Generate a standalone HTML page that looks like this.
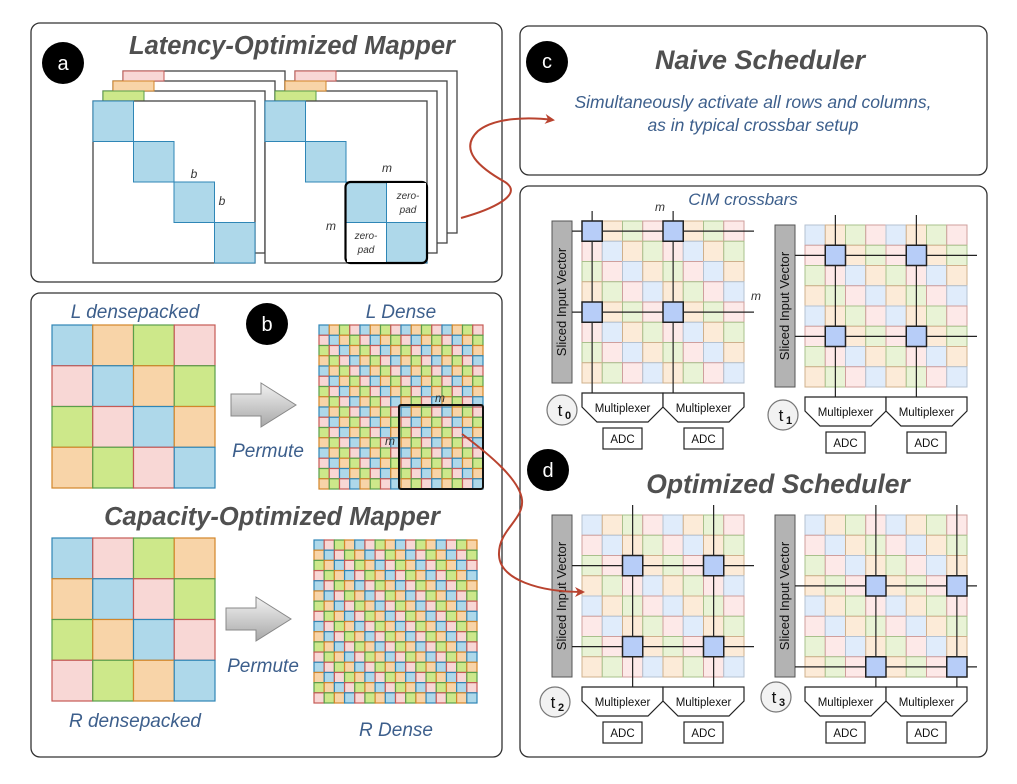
<!DOCTYPE html>
<html><head><meta charset="utf-8"><style>
html,body{margin:0;padding:0;background:#fff;}
svg{display:block;}
text{font-family:"Liberation Sans",Arial,sans-serif;}
.ttl{font-size:25.5px;font-weight:bold;font-style:italic;fill:#505050;}
.bl{font-size:19px;font-style:italic;fill:#3d5f8c;}
.sm{font-size:12px;font-style:italic;fill:#333;}
.mx{font-size:11.5px;fill:#111;}
</style></head><body>
<svg id="s" width="1017" height="784" viewBox="0 0 1017 784" xmlns="http://www.w3.org/2000/svg">
<defs>
<linearGradient id="ag" x1="0" y1="0" x2="0" y2="1"><stop offset="0" stop-color="#f2f2f2"/><stop offset="1" stop-color="#a8a8a8"/></linearGradient>
<marker id="ar" markerWidth="10" markerHeight="10" refX="8" refY="5" orient="auto" markerUnits="userSpaceOnUse"><path d="M0,0 L10,5 L0,10 L3,5 z" fill="#b9432f"/></marker>
</defs>
<rect x="31" y="23" width="471" height="259" rx="9" fill="#fff" stroke="#333" stroke-width="1.3"/>
<rect x="520" y="26" width="467" height="149" rx="9" fill="#fff" stroke="#333" stroke-width="1.3"/>
<rect x="31" y="293" width="471" height="464" rx="9" fill="#fff" stroke="#333" stroke-width="1.3"/>
<rect x="520" y="186" width="467" height="571" rx="9" fill="#fff" stroke="#333" stroke-width="1.3"/>
<g id="g"></g>
<text class="ttl" x="292" y="54" text-anchor="middle">Latency-Optimized Mapper</text>
<text class="ttl" x="760" y="69" text-anchor="middle" style="font-size:27px">Naive Scheduler</text>
<text class="bl" x="753" y="108" text-anchor="middle" style="font-size:17.5px">Simultaneously activate all rows and columns,</text>
<text class="bl" x="753" y="131" text-anchor="middle" style="font-size:17.5px">as in typical crossbar setup</text>
<text class="bl" x="743" y="205" text-anchor="middle" style="font-size:17px">CIM crossbars</text>
<text class="ttl" x="778" y="493" text-anchor="middle" style="font-size:26.5px">Optimized Scheduler</text>
<text class="ttl" x="272" y="525" text-anchor="middle">Capacity-Optimized Mapper</text>
<text class="bl" x="135" y="318" text-anchor="middle">L densepacked</text>
<text class="bl" x="401" y="318" text-anchor="middle">L Dense</text>
<text class="bl" x="268" y="457" text-anchor="middle">Permute</text>
<text class="bl" x="263" y="672" text-anchor="middle">Permute</text>
<text class="bl" x="135" y="727" text-anchor="middle">R densepacked</text>
<text class="bl" x="396" y="736" text-anchor="middle">R Dense</text>
<path d="M231,394 H261 V383 L296,405 L261,427 V416 H231 Z" fill="url(#ag)" stroke="#888"/>
<path d="M226,608 H256 V597 L291,619 L256,641 V630 H226 Z" fill="url(#ag)" stroke="#888"/>
<g fill="#000"><circle cx="63" cy="63" r="21"/><circle cx="267" cy="324" r="21"/><circle cx="547" cy="62" r="21"/><circle cx="548" cy="470" r="21"/></g>
<g fill="#fff" font-size="20" text-anchor="middle"><text x="63" y="70" fill="#fff">a</text><text x="267" y="331" fill="#fff">b</text><text x="547" y="68" fill="#fff">c</text><text x="548" y="477" fill="#fff">d</text></g>
</svg>
<script>
const NS="http://www.w3.org/2000/svg";const G=document.getElementById('g');const S=document.getElementById('s');
function el(t,a,p){const e=document.createElementNS(NS,t);for(const k in a)e.setAttribute(k,a[k]);(p||G).appendChild(e);return e;}
function tx(x,y,s,cls,anch,extra){const e=el('text',Object.assign({x:x,y:y,class:cls,'text-anchor':anch||'middle'},extra||{}));e.textContent=s;return e;}
const C={b:['#aed8ea','#2f86b6'],o:['#f8d4a8','#d3862a'],g:['#cde88a','#5a9e4a'],p:['#f8d7d5','#c55a55']};
const P={b:['#e0ecfb','#b4c2d2'],o:['#fcebd8','#cfb08c'],g:['#e9f3d6','#a9c08c'],p:['#fde9e8','#cf9f9d']};
function grid(x,y,n,size,order,pal,sw){const c=size/n;for(let r=0;r<n;r++)for(let k=0;k<n;k++){const col=pal[order[((k-r)%4+4)%4]];el('rect',{x:x+k*c,y:y+r*c,width:c,height:c,fill:col[0],stroke:col[1],'stroke-width':sw});}}
function mat(x,y){for(let i=3;i>=1;i--){el('rect',{x:x+i*10,y:y-i*10,width:162,height:162,fill:'#fff',stroke:'#444','stroke-width':1.3});}
 const tabs=[['#f8d7d5','#c55a55'],['#f8d4a8','#d3862a'],['#cde88a','#5a9e4a']];
 for(let i=3;i>=1;i--){const t=tabs[3-i];el('rect',{x:x+i*10,y:y-i*10,width:41,height:10,fill:t[0],stroke:t[1]});}
 el('rect',{x:x,y:y,width:162,height:162,fill:'#fff',stroke:'#444','stroke-width':1.3});
 for(let i=0;i<4;i++)el('rect',{x:x+i*40.5,y:y+i*40.5,width:40.5,height:40.5,fill:'#aed8ea',stroke:'#2f86b6'});
}
mat(93,101);mat(265,101);
tx(194,178,'b','sm');tx(222,205,'b','sm');
tx(387,172,'m','sm');tx(331,230,'m','sm');
el('rect',{x:345.5,y:182,width:81.5,height:81,rx:5,fill:'none',stroke:'#000','stroke-width':2.2});
el('rect',{x:387,y:183,width:39,height:39,fill:'#fff'});el('rect',{x:347,y:223,width:39,height:39,fill:'#fff'});
tx(408,199,'zero-','sm','middle',{style:'font-size:10px'});tx(408,213,'pad','sm','middle',{style:'font-size:10px'});
tx(366,239,'zero-','sm','middle',{style:'font-size:10px'});tx(366,253,'pad','sm','middle',{style:'font-size:10px'});
grid(52,325,4,163,['b','o','g','p'],C,1.2);
grid(319,325,16,164,['b','o','g','p'],C,1.2);
el('rect',{x:399,y:405,width:84,height:84,rx:2,fill:'none',stroke:'#111','stroke-width':2});
tx(440,402,'m','sm');tx(390,445,'m','sm');
grid(52,538,4,163,['b','p','g','o'],C,1.2);
grid(314,540,16,163,['b','p','g','o'],C,1.2);
function xbar(gx,gy,k,tsub,cx,cy){
 const c=162/8;grid(gx,gy,8,162,['b','o','g','p'],P,1);
 el('rect',{x:gx-30,y:gy,width:20,height:162,fill:'#b3b3b3',stroke:'#555'});
 tx(0,0,'Sliced Input Vector','mx','middle',{transform:`translate(${gx-16},${gy+81}) rotate(-90)`,style:'font-size:13px'});
 const idx=[k,k+4];
 idx.forEach(i=>{const yy=gy+(i+0.5)*c;el('line',{x1:gx-10,y1:yy,x2:gx+172,y2:yy,stroke:'#222','stroke-width':1.2});
  const xx=gx+(i+0.5)*c;el('line',{x1:xx,y1:gy-10,x2:xx,y2:gy+172,stroke:'#222','stroke-width':1.2});});
 idx.forEach(r=>idx.forEach(q=>el('rect',{x:gx+q*c,y:gy+r*c,width:c,height:c,fill:'#b7cdf8',stroke:'#222','stroke-width':1.5})));
 const my=gy+172;
 for(let j=0;j<2;j++){const x0=gx+j*81;el('path',{d:`M${x0},${my} H${x0+81} V${my+14} L${x0+66},${my+29} H${x0+15} L${x0},${my+14} Z`,fill:'#fff',stroke:'#222','stroke-width':1.2});
  tx(x0+40.5,my+19,'Multiplexer','mx');
  el('rect',{x:x0+21,y:my+35,width:39,height:21,fill:'#fff',stroke:'#222','stroke-width':1.2});tx(x0+40.5,my+50,'ADC','mx');}
 el('circle',{cx:cx,cy:cy,r:15,fill:'#f2f2f2',stroke:'#777','stroke-width':1.2});
 tx(cx-2,cy+6,'t','mx','middle',{style:'font-size:17px'});
 tx(cx+6,cy+9,tsub,'mx','middle',{style:'font-size:11px;font-weight:bold'});
}
xbar(582,221,0,'0',562,410);
xbar(805,225,1,'1',783,415);
xbar(582,515,2,'2',555,702);
xbar(805,515,3,'3',776,697);
tx(660,211,'m','sm');tx(756,300,'m','sm');
el('path',{d:'M461,218 C490,210 525,195 505,182 C480,168 458,150 478,131 C495,117 530,117 553,120',fill:'none',stroke:'#b9432f','stroke-width':2,'marker-end':'url(#ar)'});
el('path',{d:'M462,434 C490,455 520,480 522,500 C524,520 498,530 499,555 C500,580 540,592 583,592',fill:'none',stroke:'#b9432f','stroke-width':2,'marker-end':'url(#ar)'});
Array.from(S.querySelectorAll(':scope > text, :scope > circle, :scope > g:not(#g)')).forEach(e=>S.appendChild(e));
</script>
</body></html>
